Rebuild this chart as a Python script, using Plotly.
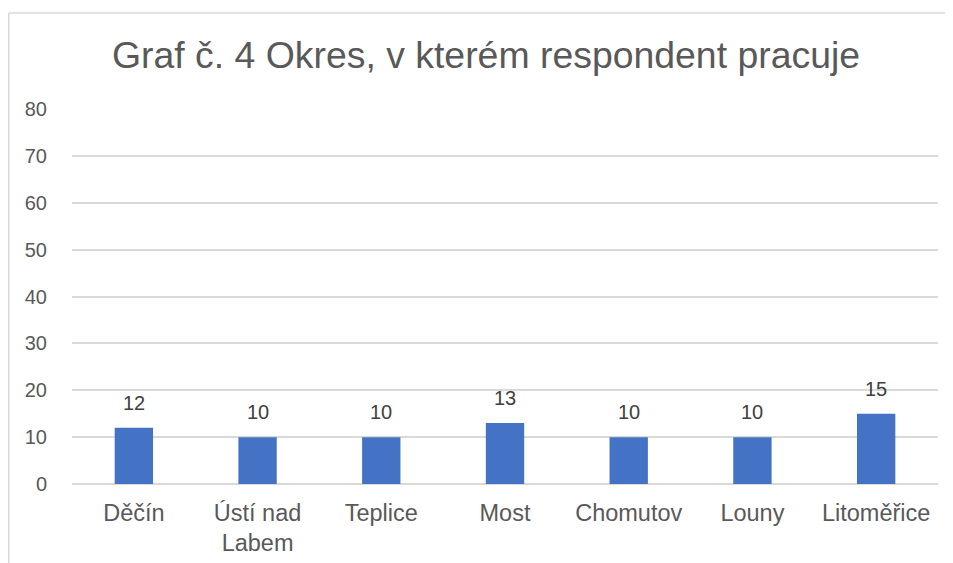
import plotly.graph_objects as go

categories = ["Děčín", "Ústí nad<br>Labem", "Teplice", "Most", "Chomutov", "Louny", "Litoměřice"]
values = [12, 10, 10, 13, 10, 10, 15]
y_ticks = [0, 10, 20, 30, 40, 50, 60, 70, 80]

# page has an 8px body margin, so the figure is sized to fill the rest of the window
W, H = 945, 555
L, R, T, B = 64, 15, 101, 79
pw, ph = W - L - R, H - T - B

fig = go.Figure(go.Bar(
    x=categories, y=values,
    marker=dict(color="#4472C4", line=dict(width=0)),
    hoverinfo="x+y",
))

annotations = [
    dict(x=c, y=v, xref="x", yref="y", text=str(v), showarrow=False,
         yanchor="bottom", yshift=12,
         font=dict(size=20, color="#404040", family="Liberation Sans"))
    for c, v in zip(categories, values)
]

border = [
    # top edge of the chart frame
    dict(type="line", xref="paper", yref="paper",
         x0=(0.75 - L) / pw, x1=(W - L) / pw,
         y0=(H - B - 5) / ph, y1=(H - B - 5) / ph,
         line=dict(color="#D9D9D9", width=1.5), layer="below"),
    # left edge of the chart frame
    dict(type="line", xref="paper", yref="paper",
         x0=(0.75 - L) / pw, x1=(0.75 - L) / pw,
         y0=(H - B - 5) / ph, y1=-B / ph,
         line=dict(color="#D9D9D9", width=1.5), layer="below"),
]

fig.update_layout(
    width=W, height=H,
    margin=dict(l=L, r=R, t=T, b=B, autoexpand=False),
    paper_bgcolor="white", plot_bgcolor="white",
    bargap=0.69,
    showlegend=False,
    title=dict(text="Graf č. 4 Okres, v kterém respondent pracuje",
               x=478 / W, xanchor="center", y=1 - 47 / H, yanchor="middle",
               font=dict(size=37.4, color="#595959", family="Liberation Sans")),
    font=dict(family="Liberation Sans", color="#595959", size=20),
    xaxis=dict(showgrid=False, zeroline=False, showline=False, ticks="",
               ticklabelstandoff=12, automargin=False,
               tickfont=dict(size=23.5, color="#595959")),
    yaxis=dict(range=[0, 80], tickvals=y_ticks, showgrid=True, gridcolor="#D9D9D9",
               gridwidth=1.5, zeroline=True, zerolinecolor="#D9D9D9", zerolinewidth=1.5,
               showline=False, ticks="", ticklabelstandoff=24, automargin=False,
               tickfont=dict(size=20, color="#595959")),
    annotations=annotations,
    shapes=border,
)

fig.write_html("out.html")
